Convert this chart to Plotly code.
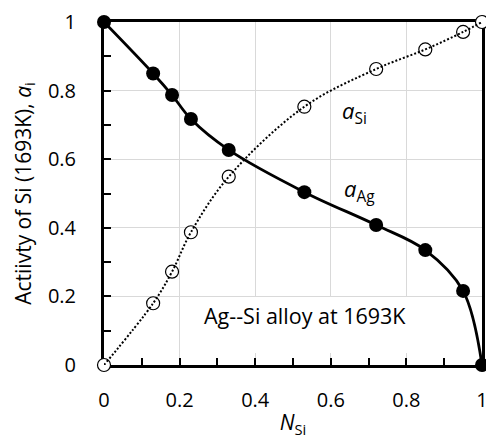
import plotly.graph_objects as go

# Mole fraction of Si and activities in the Ag-Si melt at 1693 K
n_si = [0, 0.13, 0.18, 0.23, 0.33, 0.53, 0.72, 0.85, 0.95, 1]
a_ag = [1, 0.85, 0.787, 0.717, 0.627, 0.504, 0.408, 0.335, 0.216, 0]
a_si = [0, 0.18, 0.272, 0.387, 0.549, 0.753, 0.863, 0.92, 0.971, 1]

FONT = "Open Sans"

fig = go.Figure()

# a_Si: open circles, dotted smoothed curve drawn over them
fig.add_trace(go.Scatter(
    x=n_si, y=a_si, mode="markers",
    marker=dict(symbol="circle", size=13, color="white",
                line=dict(color="black", width=1.2)),
    cliponaxis=False, showlegend=False, hoverinfo="skip",
))
fig.add_trace(go.Scatter(
    x=n_si, y=a_si, mode="lines",
    line=dict(color="black", width=2, dash="2px,2px", shape="spline", smoothing=1),
    cliponaxis=False, showlegend=False,
))

# a_Ag: filled circles on a solid smoothed curve
fig.add_trace(go.Scatter(
    x=n_si, y=a_ag, mode="lines+markers",
    line=dict(color="black", width=2.8, shape="spline", smoothing=1),
    marker=dict(symbol="circle", size=14, color="black"),
    cliponaxis=False, showlegend=False,
))

axis_common = dict(
    range=[0, 1], dtick=0.2, tick0=0,
    showline=True, linecolor="black", linewidth=3, mirror=True,
    showgrid=True, gridcolor="#d9d9d9", gridwidth=1,
    zeroline=False,
    ticks="inside", ticklen=7, tickwidth=2, tickcolor="black",
    minor=dict(dtick=0.1, ticks="inside", ticklen=7, tickwidth=2,
               tickcolor="black", showgrid=False),
    tickfont=dict(family=FONT, size=20, color="black"),
    ticklabeloverflow="allow",
    layer="below traces",
    fixedrange=True,
)

fig.update_xaxes(
    **axis_common,
    ticklabelstandoff=15,
    title=dict(text="<i>N</i><sub>Si</sub>", font=dict(family=FONT, size=21, color="black"),
               standoff=4),
)
fig.update_yaxes(
    **axis_common,
    ticklabelstandoff=21,
    title=dict(text="Actiivty of Si (1693K), <i>a</i><sub>i</sub>",
               font=dict(family=FONT, size=21, color="black"), standoff=11),
)

# white panel behind the caption, hiding the gridlines underneath
fig.add_annotation(x=0.5325, y=0.1165, xref="x domain", yref="y domain",
                   xanchor="center", yanchor="middle",
                   text=" ", showarrow=False, bgcolor="white",
                   width=211, height=56, borderpad=0, borderwidth=0)

fig.add_annotation(x=0.664, y=0.738, xref="x", yref="y",
                   xanchor="center", yanchor="middle",
                   text="<i>a</i><sub>Si</sub>", showarrow=False,
                   font=dict(family=FONT, size=22, color="black"))
fig.add_annotation(x=0.677, y=0.51, xref="x", yref="y",
                   xanchor="center", yanchor="middle",
                   text="<i>a</i><sub>Ag</sub>", showarrow=False,
                   font=dict(family=FONT, size=22, color="black"))
fig.add_annotation(x=0.533, y=0.143, xref="x domain", yref="y domain",
                   xanchor="center", yanchor="middle",
                   text="Ag--Si alloy at 1693K", showarrow=False,
                   font=dict(family=FONT, size=21.5, color="black"))

fig.update_layout(
    width=486, height=439,
    margin=dict(l=104, r=4, t=22, b=74, autoexpand=False),
    paper_bgcolor="white", plot_bgcolor="white",
    showlegend=False,
)

fig.write_html("out.html", config={"displayModeBar": False})
